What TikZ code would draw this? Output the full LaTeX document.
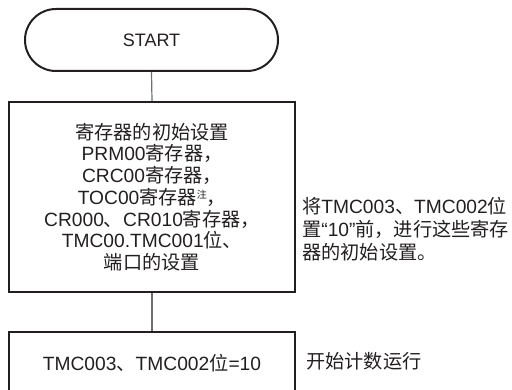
\documentclass[tikz,border=0pt]{standalone}
\usepackage{fontspec}
\setmainfont{Liberation Sans}
\newfontfamily\cjk{Noto Sans CJK SC}
\newcommand{\zh}[1]{{\cjk #1}}
\newcommand{\notemark}{{\fontsize{10}{10}\selectfont\raisebox{5.5pt}{\cjk 注}}}
\definecolor{ink}{HTML}{231F20}
\definecolor{linegray}{HTML}{6D6E71}
\begin{document}
\begin{tikzpicture}[x=1pt,y=-1pt,
  every node/.style={text=ink},
  term/.style={draw=ink,line width=2pt,rounded corners=31pt,minimum width=253pt,minimum height=62pt,inner sep=0pt,font=\fontsize{18}{21.7}\selectfont},
  procbox/.style={draw=ink,line width=2pt,minimum width=286pt,inner sep=0pt,align=center,font=\fontsize{19.2}{21.7}\selectfont},
  note/.style={inner sep=0pt,align=left,font=\fontsize{19.2}{23.3}\selectfont},
  conn/.style={draw=linegray,line width=1.2pt}]
\useasboundingbox (0,0) rectangle (512,390);
\clip (0,0) rectangle (512,390);
\node[term] (start) at (151.5,40) {START};
\node[procbox,minimum height=190pt] (init) at (152,197) {%
\zh{寄存器的初始设置}\\
PRM00\zh{寄存器，}\\
CRC00\zh{寄存器，}\\
TOC00\zh{寄存器}\notemark\zh{，}\\
CR000\zh{、}CR010\zh{寄存器，}\\
TMC00.TMC001\zh{位、}\\
\zh{端口的设置}};
\node[procbox,minimum height=62pt] (run) at (152,363) {TMC003\zh{、}TMC002\zh{位}=10};
\node[note,anchor=west] (initnote) at (302,229) {%
\zh{将}TMC003\zh{、}TMC002\zh{位}\\
\zh{置}“10”\zh{前，进行这些寄存}\\
\zh{器的初始设置。}};
\node[note,anchor=west] (runnote) at (306,361) {\zh{开始计数运行}};
\draw[conn] (start.south) -- (init.north);
\draw[conn] (init.south) -- (run.north);
\end{tikzpicture}
\end{document}
